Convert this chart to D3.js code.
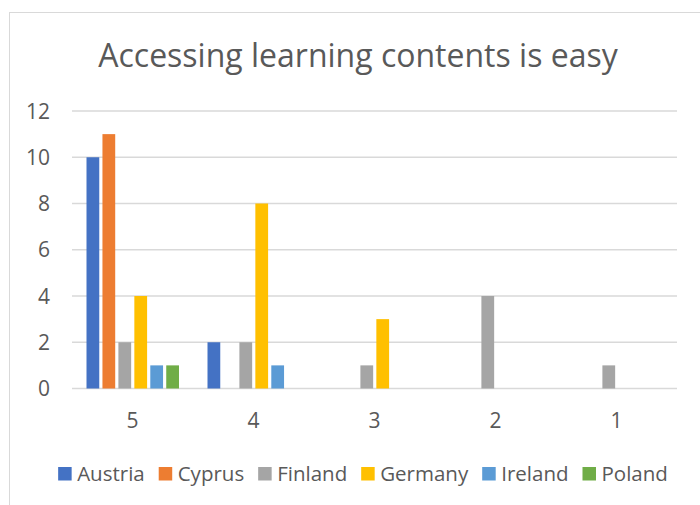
<!DOCTYPE html>
<html>
<head>
<meta charset="utf-8">
<script src="https://cdn.jsdelivr.net/npm/d3@7"></script>
<style>
  body { margin: 0; background: #fff; }
  text { font-family: "Open Sans", sans-serif; fill: #595959; }
</style>
</head>
<body>
<script>
// data
var categories = ["5", "4", "3", "2", "1"];
var countries = ["Austria", "Cyprus", "Finland", "Germany", "Ireland", "Poland"];
var austria = [10, 2, 0, 0, 0];
var cyprus  = [11, 0, 0, 0, 0];
var finland = [2, 2, 1, 4, 1];
var germany = [4, 8, 3, 0, 0];
var ireland = [1, 1, 0, 0, 0];
var poland  = [1, 0, 0, 0, 0];
var yTicks = [0, 2, 4, 6, 8, 10, 12];

var colors = ["#4472C4", "#ED7D31", "#A5A5A5", "#FFC000", "#5B9BD5", "#70AD47"];
var seriesValues = [austria, cyprus, finland, germany, ireland, poland];

var width = 700, height = 505;
var plotLeft = 72, plotRight = 677, plotTop = 111, plotBottom = 388.5;

var svg = d3.select('body').append('svg')
        .attr('width', width)
        .attr('height', height);

// chart border (the picture is cropped, right and bottom run off the edge)
svg.append('rect')
        .attr('x', 9.5)
        .attr('y', 12.5)
        .attr('width', 720)
        .attr('height', 520)
        .attr('fill', 'none')
        .attr('stroke', '#d9d9d9')
        .attr('stroke-width', 1);

var x0 = d3.scaleBand()
        .domain(categories)
        .range([plotLeft, plotRight])
        .padding(0);

var x1 = d3.scaleBand()
        .domain(countries)
        .range([14.5, 107])
        .paddingInner(0.2)
        .paddingOuter(0);

var y = d3.scaleLinear()
        .domain([0, 12])
        .range([plotBottom, plotTop]);

// gridlines
svg.append('g')
        .selectAll('line')
        .data(yTicks)
        .join('line')
        .attr('x1', plotLeft)
        .attr('x2', plotRight)
        .attr('y1', function(d) { return y(d); })
        .attr('y2', function(d) { return y(d); })
        .attr('stroke', '#d9d9d9')
        .attr('stroke-width', 1.3);

// y axis labels
var yAxis = d3.axisLeft(y).tickValues(yTicks).tickSize(0).tickPadding(0);
var gy = svg.append('g')
        .attr('transform', 'translate(50,0)')
        .call(yAxis);
gy.select('.domain').remove();
gy.selectAll('text')
        .attr('font-size', '21px')
        .attr('font-family', '"Open Sans", sans-serif')
        .attr('fill', '#595959')
        .attr('dy', '0.34em');

// x axis labels
var xAxis = d3.axisBottom(x0).tickSize(0).tickPadding(0);
var gx = svg.append('g')
        .call(xAxis);
gx.select('.domain').remove();
gx.selectAll('text')
        .attr('font-size', '21px')
        .attr('font-family', '"Open Sans", sans-serif')
        .attr('fill', '#595959')
        .attr('y', 428)
        .attr('dy', 0);

// bars
var groups = svg.append('g')
        .selectAll('g')
        .data(categories)
        .join('g')
        .attr('transform', function(d) { return 'translate(' + x0(d) + ',0)'; });

groups.selectAll('rect')
        .data(function(c, ci) {
            return countries.map(function(name, si) {
                return {name: name, value: seriesValues[si][ci], color: colors[si]};
            }).filter(function(d) { return d.value > 0; });
        })
        .join('rect')
        .attr('x', function(d) { return x1(d.name); })
        .attr('y', function(d) { return y(d.value); })
        .attr('width', x1.bandwidth())
        .attr('height', function(d) { return y(0) - y(d.value); })
        .attr('fill', function(d) { return d.color; });

// title
svg.append('text')
        .attr('x', 358)
        .attr('y', 67)
        .attr('text-anchor', 'middle')
        .attr('font-size', '32px')
        .text('Accessing learning contents is easy');

// legend
var legend = svg.append('g');
var items = legend.selectAll('g')
        .data(countries)
        .join('g');
items.append('rect')
        .attr('width', 13.5)
        .attr('height', 13.5)
        .attr('y', 467)
        .attr('fill', function(d, i) { return colors[i]; });
items.append('text')
        .attr('x', 19)
        .attr('y', 480.5)
        .attr('font-size', '20.5px')
        .text(function(d) { return d; });

var pos = 0;
items.each(function() {
    var g = d3.select(this);
    g.attr('transform', 'translate(' + pos + ',0)');
    pos += 19 + g.select('text').node().getComputedTextLength() + 14;
});
var legendWidth = pos - 14;
legend.attr('transform', 'translate(' + (363 - legendWidth / 2) + ',0)');
</script>
</body>
</html>
